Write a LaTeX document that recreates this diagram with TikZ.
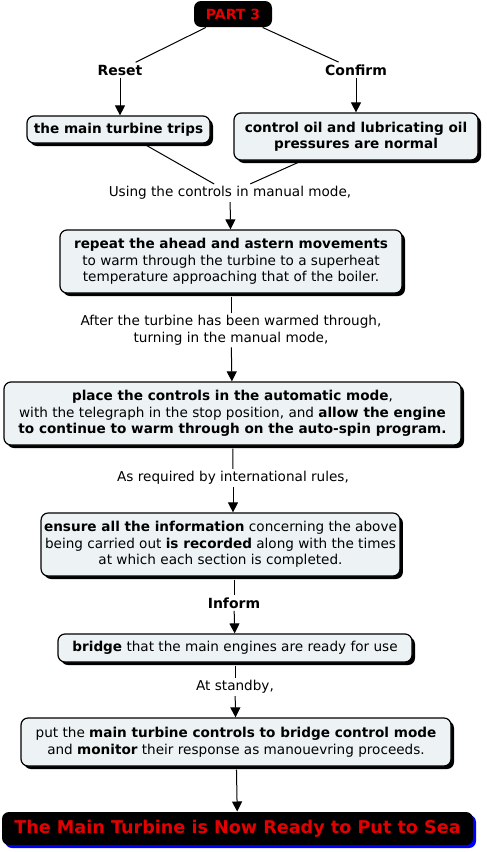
\documentclass[tikz,border=0pt]{standalone}
\usepackage{fontspec}
\setmainfont{DejaVu Sans}
\usetikzlibrary{arrows.meta,shadows}
\definecolor{boxfill}{RGB}{237,243,244}
\definecolor{partred}{RGB}{228,0,0}
\definecolor{seablue}{RGB}{0,0,255}
\begin{document}
\begin{tikzpicture}[x=1pt,y=-1pt,line width=1pt,
  every node/.style={font=\fontsize{13.6}{16.5}\selectfont,align=center,inner sep=0pt},
  stepbox/.style={draw,fill=boxfill,rounded corners=7pt,line width=1.2pt,inner xsep=3pt,
    drop shadow={shadow xshift=3pt,shadow yshift=-3pt,fill=black,opacity=1}},
  darkbox/.style={fill=black,rounded corners=7pt,text=partred,font=\fontsize{14}{16}\selectfont\bfseries},
  cue/.style={inner sep=2pt},
  arr/.style={-{Triangle[width=10pt,length=10pt]}}]
\useasboundingbox (0,0) rectangle (487,852);
% top of the chart
\node[darkbox,minimum width=78,minimum height=26] (part) at (233,14) {PART 3};
\node[cue,font=\fontsize{14}{16}\selectfont\bfseries] (reset) at (120,70) {Reset};
\node[cue,font=\fontsize{14}{16}\selectfont\bfseries] (confirm) at (356,70) {Confirm};
\node[stepbox,minimum width=183,minimum height=27,font=\fontsize{13.6}{16}\selectfont\bfseries] (trip) at (118.5,129.5) {the main turbine trips};
\node[stepbox,minimum width=244,minimum height=47,font=\fontsize{13.6}{16.5}\selectfont\bfseries] (oil) at (356,136.5) {control oil and lubricating oil\\pressures are normal};
\node[cue] (using) at (230,193) {Using the controls in manual mode,};
% warming through
\node[stepbox,minimum width=342,minimum height=63] (rep) at (231,261.5) {\textbf{repeat the ahead and astern movements}\\to warm through the turbine to a superheat\\temperature approaching that of the boiler.};
\node[cue] (after) at (231,330) {After the turbine has been warmed through,\\turning in the manual mode,};
\node[stepbox,minimum width=457,minimum height=63] (place) at (232.5,413.5) {\textbf{place the controls in the automatic mode},\\with the telegraph in the stop position, and \textbf{allow the engine}\\\textbf{to continue to warm through on the auto-spin program.}};
\node[cue] (asreq) at (233,478) {As required by international rules,};
\node[stepbox,minimum width=355,minimum height=63] (rec) at (220.5,544.5) {\textbf{ensure all the information} concerning the above\\being carried out \textbf{is recorded} along with the times\\at which each section is completed.};
\node[cue,font=\fontsize{14}{16}\selectfont\bfseries] (inform) at (234,603) {Inform};
\node[stepbox,minimum width=354,minimum height=28] (bridge) at (235,648) {\textbf{bridge} that the main engines are ready for use};
\node[cue] (standby) at (235,687) {At standby,};
\node[stepbox,minimum width=430,minimum height=48] (put) at (236,742) {put the \textbf{main turbine controls to bridge control mode}\\and \textbf{monitor} their response as manouevring proceeds.};
% last box
\node[darkbox,minimum width=471,minimum height=33,font=\fontsize{17.6}{20}\selectfont\bfseries,
  drop shadow={shadow xshift=3pt,shadow yshift=-3pt,fill=seablue,opacity=1}] (sea) at (237.5,828.5) {The Main Turbine is Now Ready to Put to Sea};
% connectors
\draw (part) -- (reset);
\draw (part) -- (confirm);
\draw[arr] (reset) -- (reset |- trip.north);
\draw[arr] (confirm) -- (oil);
\draw[shorten <=4pt] (trip) -- (using);
\draw[shorten <=4pt] (oil) -- (using);
\draw[arr] (using) -- (rep);
\draw[shorten <=3pt] (rep) -- (after);
\draw[arr] (after) -- (place);
\draw[shorten <=3pt] (place) -- (asreq);
\draw[arr] (asreq) -- (asreq |- rec.north);
\draw[shorten <=3pt] (rec.south -| inform) -- (inform);
\draw[arr] (inform) -- (bridge);
\draw[shorten <=3pt] (bridge) -- (standby);
\draw[arr] (standby) -- (put);
\draw[arr,shorten <=3pt] (put) -- (sea);
\end{tikzpicture}
\end{document}
